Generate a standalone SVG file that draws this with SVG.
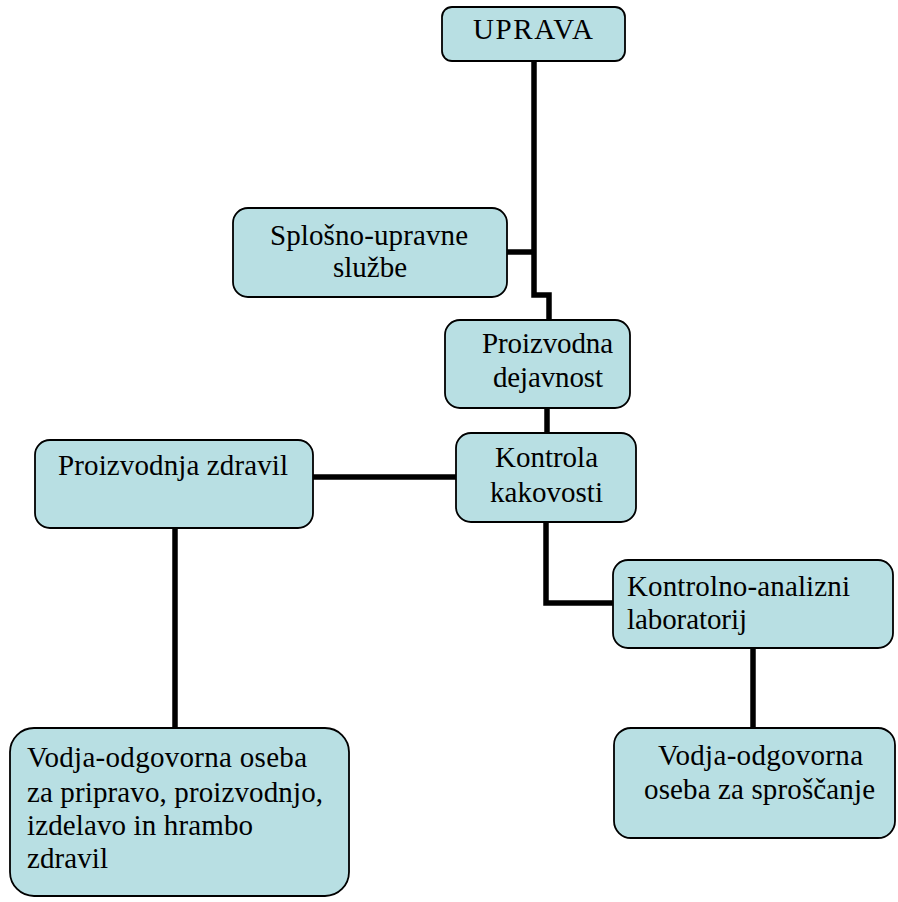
<svg xmlns="http://www.w3.org/2000/svg" width="898" height="902" viewBox="0 0 898 902" font-family="Liberation Serif, Times New Roman, serif" font-size="29">
<style>
.box{fill:#b8dfe3;stroke:#000;stroke-width:1.8}
.c{fill:none;stroke:#000;stroke-width:5.5;stroke-linejoin:miter;stroke-linecap:butt}
</style>
<rect width="898" height="902" fill="#fff"/>
<g id="connectors">
<path class="c" d="M534,61 V295 H549 V320"/>
<path class="c" d="M507,252 H534"/>
<path class="c" d="M547,408 V433"/>
<path class="c" d="M313,477 H456"/>
<path class="c" d="M175,528 V728"/>
<path class="c" d="M546,522 V603 H613"/>
<path class="c" d="M753,648 V728"/>
</g>
<g id="uprava">
<rect class="box" x="442" y="7" width="183" height="54" rx="10"/>
<text x="473" y="39" textLength="120" lengthAdjust="spacing">UPRAVA</text>
</g>
<g id="splosno">
<rect class="box" x="233" y="208" width="274" height="89" rx="15"/>
<text x="270" y="245" textLength="198" lengthAdjust="spacing">Splošno-upravne</text>
<text x="333" y="277" textLength="74" lengthAdjust="spacing">službe</text>
</g>
<g id="proizvodna">
<rect class="box" x="445" y="320" width="185" height="88" rx="15"/>
<text x="482" y="353" textLength="131" lengthAdjust="spacing">Proizvodna</text>
<text x="493" y="387" textLength="110" lengthAdjust="spacing">dejavnost</text>
</g>
<g id="kontrola">
<rect class="box" x="456" y="433" width="180" height="89" rx="15"/>
<text x="495" y="467" textLength="103" lengthAdjust="spacing">Kontrola</text>
<text x="490" y="502" textLength="113" lengthAdjust="spacing">kakovosti</text>
</g>
<g id="proizvodnja">
<rect class="box" x="35" y="440" width="278" height="88" rx="15"/>
<text x="58" y="475" textLength="230" lengthAdjust="spacing">Proizvodnja zdravil</text>
</g>
<g id="laboratorij">
<rect class="box" x="613" y="560" width="280" height="88" rx="15"/>
<text x="627" y="596" textLength="223" lengthAdjust="spacing">Kontrolno-analizni</text>
<text x="627" y="629" textLength="120" lengthAdjust="spacing">laboratorij</text>
</g>
<g id="vodja-proizvodnja">
<rect class="box" x="10" y="728" width="339" height="168" rx="24"/>
<text x="27" y="767" textLength="280" lengthAdjust="spacing">Vodja-odgovorna oseba</text>
<text x="27" y="802" textLength="296" lengthAdjust="spacing">za pripravo, proizvodnjo,</text>
<text x="27" y="835" textLength="226" lengthAdjust="spacing">izdelavo in hrambo</text>
<text x="27" y="868" textLength="81" lengthAdjust="spacing">zdravil</text>
</g>
<g id="vodja-sproscanje">
<rect class="box" x="614" y="728" width="281" height="110" rx="17"/>
<text x="658" y="765" textLength="205" lengthAdjust="spacing">Vodja-odgovorna</text>
<text x="644" y="799" textLength="231" lengthAdjust="spacing">oseba za sproščanje</text>
</g>
</svg>
